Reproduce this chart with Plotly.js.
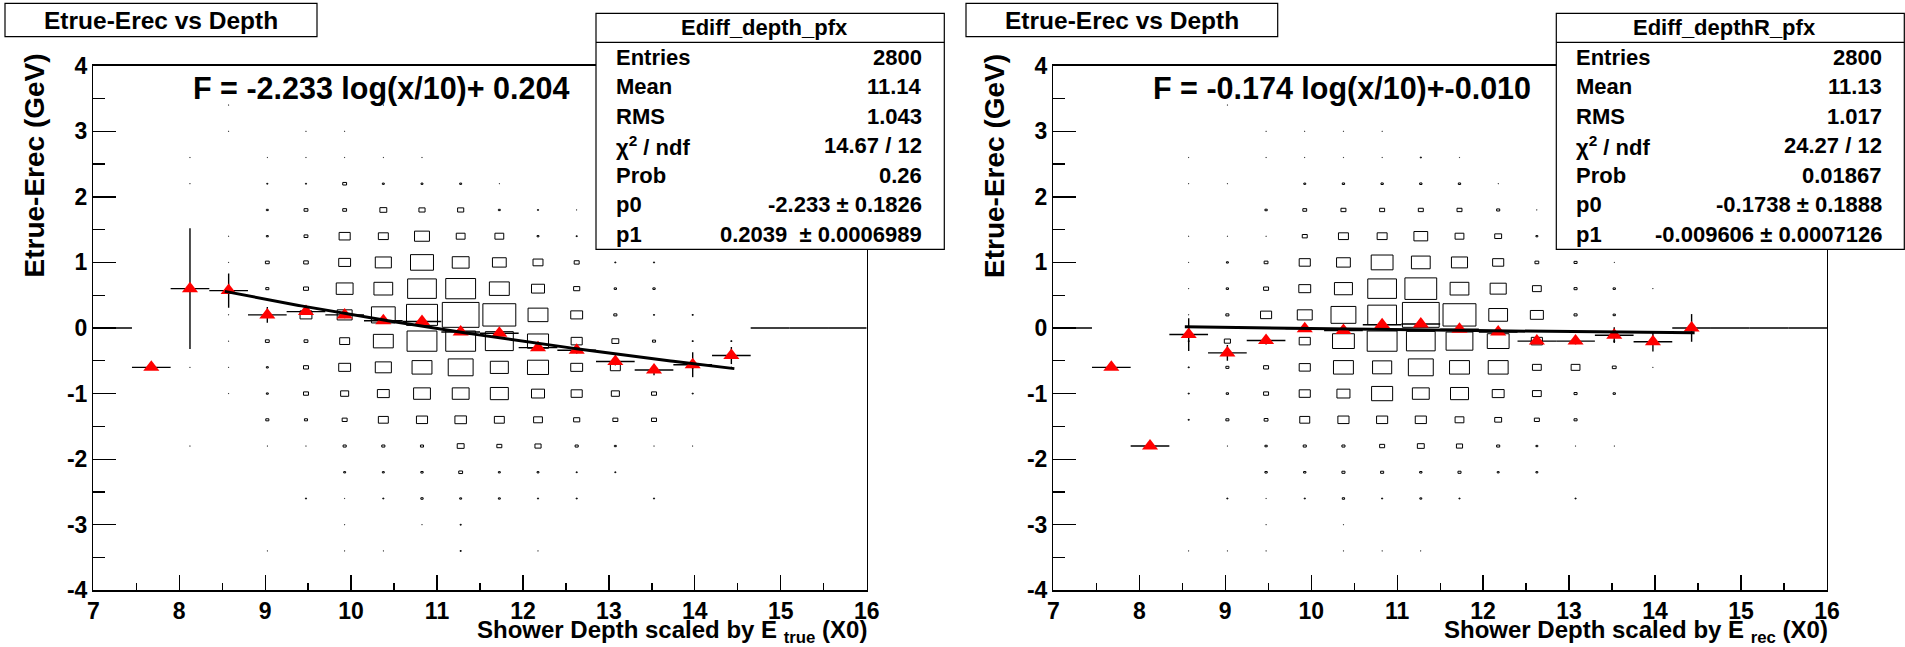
<!DOCTYPE html>
<html><head><meta charset="utf-8">
<script src="https://cdn.plot.ly/plotly-3.0.1.min.js"></script>
<style>html,body{margin:0;padding:0;background:#fff;}#chart{width:1905px;height:647px;}</style>
</head><body><div id="chart"></div>
<script>
// ---- histogram binning (TH2 / TProfile definitions) ----
const xBinLow = 7, xBinWidth = 0.45;
const yBinWidth = 0.4;
// filled x-bin centres
const colCenters = [7.675, 8.125, 8.575, 9.025, 9.475, 9.925, 10.375, 10.825, 11.275, 11.725, 12.175, 12.625, 13.075, 13.525, 13.975, 14.425];
// y-bin centres (top to bottom)
const rowCenters = [3.4, 3.0, 2.6, 2.2, 1.8, 1.4, 1.0, 0.6, 0.2, -0.2, -0.6, -1.0, -1.4, -1.8, -2.2, -2.6, -3.0, -3.4];
// axis tick labels
const xTickVals = [7, 8, 9, 10, 11, 12, 13, 14, 15, 16];
const yTickVals = [-4, -3, -2, -1, 0, 1, 2, 3, 4];

// ---- 2D histogram contents: depth scaled by E_true ----
const countsTrue = [
 [0,0,1,0,0,0,1,0,0,0,0,0,0,0,0,0],
 [0,0,1,0,1,1,0,0,0,0,0,0,0,0,0,0],
 [0,1,0,1,1,1,1,1,0,0,0,0,0,0,0,0],
 [0,1,0,3,3,10,5,5,5,1,0,0,0,0,0,0],
 [0,0,0,5,10,10,18,16,16,5,3,1,0,0,0,0],
 [0,0,1,5,10,29,26,39,23,23,5,3,0,0,0,0],
 [0,0,1,10,12,31,42,60,44,36,26,13,3,3,0,0],
 [0,0,2,8,13,44,49,75,78,52,34,16,6,6,0,0],
 [0,0,1,5,31,39,62,81,96,86,52,31,8,3,3,0],
 [0,0,1,10,10,26,52,78,78,73,55,29,18,8,3,3],
 [1,1,1,5,13,31,42,52,65,47,55,31,26,5,5,2],
 [0,0,1,5,13,21,31,44,44,47,34,29,21,13,3,0],
 [0,0,0,8,8,13,26,29,30,26,23,16,13,13,0,0],
 [0,1,0,1,1,8,8,8,18,13,16,8,5,1,1,0],
 [0,0,0,0,0,5,5,6,10,5,5,3,3,0,0,0],
 [0,0,0,0,3,1,3,6,5,5,3,3,0,3,0,0],
 [0,0,0,0,0,1,0,1,3,0,0,0,0,0,0,0],
 [0,0,0,1,0,1,1,0,3,0,1,0,0,0,0,0]
];
// ---- 2D histogram contents: depth scaled by E_rec ----
const countsRec = [
 [0,0,0,1,0,0,0,0,1,0,0,0,0,0,0,0],
 [0,0,0,0,1,1,1,1,0,0,0,0,0,0,0,0],
 [0,0,1,0,1,1,1,1,3,1,0,0,0,0,0,0],
 [0,0,1,1,0,5,6,6,6,6,1,0,0,0,0,0],
 [0,0,0,0,6,10,13,13,13,13,8,1,0,0,0,0],
 [0,0,1,1,1,13,26,26,36,23,18,5,0,0,0,0],
 [0,0,1,5,10,29,36,57,49,42,29,10,8,1,0,0],
 [0,0,1,6,13,31,47,75,83,49,42,23,8,6,1,0],
 [0,0,1,8,29,39,65,75,96,86,49,34,8,6,0,1],
 [0,0,3,16,5,29,57,78,75,70,57,29,8,3,3,0],
 [1,0,3,8,13,29,52,50,65,52,52,23,23,10,1,0],
 [0,0,3,6,13,29,34,55,44,47,31,23,8,6,0,0],
 [0,0,3,8,10,26,29,29,29,23,18,13,8,0,0,0],
 [0,1,0,1,6,8,8,13,18,16,8,5,1,1,0,0],
 [0,0,0,0,6,6,8,8,6,8,5,5,0,0,0,0],
 [0,0,0,3,1,3,6,3,5,3,0,0,3,0,0,0],
 [0,0,0,0,1,0,1,0,0,0,0,0,0,0,0,0],
 [0,0,1,1,1,0,1,1,1,0,0,0,0,0,0,0]
];

// ---- profiles (mean and error per filled x-bin) ----
const profMeanTrue = [-0.60, 0.60, 0.57, 0.20, 0.25, 0.20, 0.11, 0.10, -0.06, -0.08, -0.30, -0.34, -0.51, -0.64, -0.56, -0.42];
const profErrTrue  = [0, 0.92, 0.26, 0.12, 0.05, 0.05, 0.04, 0.03, 0.03, 0.03, 0.04, 0.05, 0.06, 0.08, 0.19, 0.13];
const profMeanRec  = [-0.60, -1.80, -0.10, -0.38, -0.19, -0.01, -0.04, 0.05, 0.06, -0.02, -0.06, -0.20, -0.20, -0.11, -0.21, 0.00];
const profErrRec   = [0, 0, 0.25, 0.12, 0.06, 0.04, 0.04, 0.03, 0.03, 0.03, 0.03, 0.04, 0.05, 0.12, 0.15, 0.21];
// empty profile bins (drawn at 0)
const emptyBinCenters = [7.225, 14.875, 15.325, 15.775];

// ---- fits F = p0*log(x/10) + p1 ----
const fitTrue = {p0: -2.233, p1: 0.2039, xmin: 8.53, xmax: 14.46};
const fitRec  = {p0: -0.1738, p1: -0.009606, xmin: 8.53, xmax: 14.46};

// ---- texts ----
const titleText = 'Etrue-Erec vs Depth';
const yTitle = 'Etrue-Erec (GeV)';
const xTitleTrue = 'Shower Depth scaled by E <sub>true</sub> (X0)';
const xTitleRec = 'Shower Depth scaled by E <sub>rec</sub> (X0)';
const fitLabelTrue = 'F = -2.233 log(x/10)+ 0.204';
const fitLabelRec = 'F = -0.174 log(x/10)+-0.010';
const statsNameTrue = 'Ediff_depth_pfx';
const statsNameRec = 'Ediff_depthR_pfx';
const statsLabels = ['Entries', 'Mean', 'RMS', '\u03c7<sup>2</sup> / ndf', 'Prob', 'p0', 'p1'];
const statsValsTrue = ['2800', '11.14', '1.043', '14.67 / 12', '0.26', '-2.233 \u00b1 0.1826', '0.2039  \u00b1 0.0006989'];
const statsValsRec  = ['2800', '11.13', '1.017', '24.27 / 12', '0.01867', '-0.1738 \u00b1 0.1888', '-0.009606 \u00b1 0.0007126'];

// ================= drawing =================
const W = 1905, H = 647;
const px = v => v / W, py = v => 1 - v / H;
const FONT = 'Liberation Sans';
const b = t => '<b>' + t + '</b>';

function boxShapes(counts, xr, yr) {
  let zmax = 0;
  counts.forEach(r => r.forEach(v => { if (v > zmax) zmax = v; }));
  const out = [];
  counts.forEach((row, i) => row.forEach((v, j) => {
    if (v <= 0) return;
    const f = v / zmax * 0.95;
    const xc = colCenters[j], yc = rowCenters[i];
    out.push({type: 'rect', xref: xr, yref: yr, layer: 'below',
      x0: xc - f * xBinWidth / 2, x1: xc + f * xBinWidth / 2,
      y0: yc - f * yBinWidth / 2, y1: yc + f * yBinWidth / 2,
      line: {color: '#000', width: 1}, fillcolor: 'rgba(0,0,0,0)'});
  }));
  return out;
}

function profileTraces(means, errs, fit, xa, ya) {
  const zx = [], zy = [];
  emptyBinCenters.forEach(c => { zx.push(c - xBinWidth / 2, c + xBinWidth / 2, null); zy.push(0, 0, null); });
  const fx = [], fy = [];
  const n = 200;
  for (let k = 0; k <= n; k++) {
    const x = fit.xmin + (fit.xmax - fit.xmin) * k / n;
    fx.push(x); fy.push(fit.p0 * Math.log(x / 10) + fit.p1);
  }
  return [
    {type: 'scatter', mode: 'lines', x: zx, y: zy, xaxis: xa, yaxis: ya,
     line: {color: '#000', width: 1.4}, hoverinfo: 'skip', showlegend: false},
    {type: 'scatter', mode: 'markers', x: colCenters, y: means, xaxis: xa, yaxis: ya,
     marker: {symbol: 'triangle-up', size: 14, color: '#ff0000'},
     error_y: {type: 'data', array: errs, visible: true, color: '#000', thickness: 1.4, width: 0},
     error_x: {type: 'constant', value: xBinWidth / 2, visible: true, color: '#000', thickness: 1.4, width: 0},
     showlegend: false},
    {type: 'scatter', mode: 'lines', x: fx, y: fy, xaxis: xa, yaxis: ya,
     line: {color: '#000', width: 3}, hoverinfo: 'skip', showlegend: false}
  ];
}

const traces = [].concat(
  profileTraces(profMeanTrue, profErrTrue, fitTrue, 'x', 'y'),
  profileTraces(profMeanRec, profErrRec, fitRec, 'x2', 'y2')
);

const tickFont = {family: FONT, size: 23, color: '#000', weight: 'bold'};
function xAxis(dom, anchor) {
  return {domain: dom, anchor: anchor, range: [7, 16],
    tickmode: 'array', tickvals: xTickVals, ticktext: xTickVals.map(v => b(v)),
    ticks: 'inside', ticklen: 15, tickwidth: 1.3, tickcolor: '#000',
    minor: {dtick: 0.5, tick0: 7, ticks: 'inside', ticklen: 7, tickwidth: 1.3, tickcolor: '#000'},
    showline: true, linecolor: '#000', linewidth: 1.3, mirror: true,
    showgrid: false, zeroline: false, tickfont: tickFont, fixedrange: true};
}
function yAxis(dom, anchor) {
  return {domain: dom, anchor: anchor, range: [-4, 4],
    tickmode: 'array', tickvals: yTickVals, ticktext: yTickVals.map(v => b(v)),
    ticks: 'inside', ticklen: 23, tickwidth: 1.3, tickcolor: '#000',
    minor: {dtick: 0.5, tick0: -4, ticks: 'inside', ticklen: 12, tickwidth: 1.3, tickcolor: '#000'},
    showline: true, linecolor: '#000', linewidth: 1.3, mirror: true,
    showgrid: false, zeroline: false, tickfont: tickFont, fixedrange: true};
}

const yDom = [py(590.3), py(65.7)];
const layout = {
  width: W, height: H, margin: {l: 0, r: 0, t: 0, b: 0},
  font: {family: FONT, size: 22, color: '#000'},
  paper_bgcolor: '#fff', plot_bgcolor: '#fff', showlegend: false,
  xaxis: xAxis([px(93.3), px(866.7)], 'y'),
  yaxis: yAxis(yDom, 'x'),
  xaxis2: xAxis([px(1053.3), px(1827)], 'y2'),
  yaxis2: yAxis(yDom, 'x2'),
  shapes: [], annotations: []
};
layout.shapes = layout.shapes.concat(boxShapes(countsTrue, 'x', 'y'), boxShapes(countsRec, 'x2', 'y2'));

function paperRect(x0, y0, x1, y1) {
  return {type: 'rect', xref: 'paper', yref: 'paper', layer: 'above',
    x0: px(x0), x1: px(x1), y0: py(y1), y1: py(y0),
    line: {color: '#000', width: 1.2}, fillcolor: '#fff'};
}
function ann(text, x, y, xanchor, size, extra) {
  return Object.assign({text: b(text), xref: 'paper', yref: 'paper', x: px(x), y: py(y),
    xanchor: xanchor, yanchor: 'middle', showarrow: false,
    font: {family: FONT, size: size, color: '#000'}}, extra || {});
}

function panel(off, statsName, statsVals, fitLabel, xTitle, titleBox, statsBox) {
  const L = layout;
  L.shapes.push(paperRect(titleBox[0], 3.3, titleBox[1], 36.7));
  L.annotations.push(ann(titleText, (titleBox[0] + titleBox[1]) / 2, 20, 'center', 24.5));
  const sx0 = statsBox[0], sx1 = statsBox[1];
  L.shapes.push(paperRect(sx0, 13.3, sx1, 249.3));
  L.shapes.push({type: 'line', xref: 'paper', yref: 'paper', layer: 'above',
    x0: px(sx0), x1: px(sx1), y0: py(42.3), y1: py(42.3), line: {color: '#000', width: 1.2}});
  L.annotations.push(ann(statsName, (sx0 + sx1) / 2 - 6, 28, 'center', 22));
  const rowH = (249.3 - 42.3) / statsLabels.length;
  statsLabels.forEach((lab, i) => {
    const yc = 42.3 + rowH * (i + 0.5);
    L.annotations.push(ann(lab, sx0 + 18, yc, 'left', 22));
    L.annotations.push(ann(statsVals[i], sx1 - 20, yc, 'right', 22));
  });
  L.annotations.push(ann(fitLabel, off + 190.7, 88, 'left', 30.5));
  L.annotations.push(ann(yTitle, off + 33.5, 166, 'center', 28, {textangle: -90}));
  L.annotations.push(ann(xTitle, off + 869, 631, 'right', 24));
}
panel(0, statsNameTrue, statsValsTrue, fitLabelTrue, xTitleTrue, [5, 317], [596, 944.3]);
panel(960.5, statsNameRec, statsValsRec, fitLabelRec, xTitleRec, [966, 1277.7], [1556.3, 1904.3]);

Plotly.newPlot('chart', traces, layout, {staticPlot: true, displayModeBar: false});
</script>
</body></html>
